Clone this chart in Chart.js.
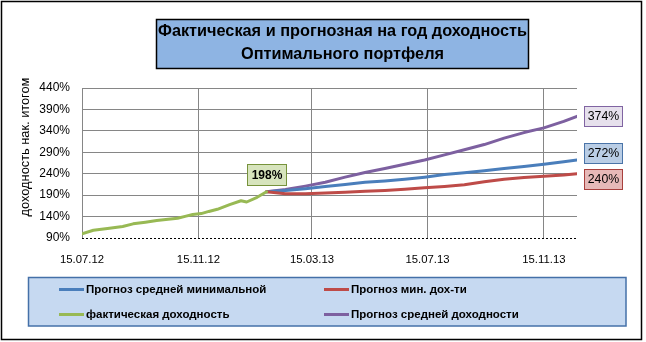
<!DOCTYPE html>
<html><head><meta charset="utf-8">
<script src="https://cdn.jsdelivr.net/npm/chart.js@4.4.0/dist/chart.umd.min.js"></script>
<style>html,body{margin:0;padding:0;background:#fff}#wrap{width:646px;height:342px;position:relative}</style>
</head><body><div id="wrap"><canvas id="c" width="646" height="342"></canvas></div>
<script>
const titleLines = ['Фактическая и прогнозная на год доходность', 'Оптимального портфеля'];
const yAxisTitle = 'доходность нак. итогом';
const seriesNames = ['Прогноз средней минимальной', 'Прогноз мин. дох-ти', 'фактическая доходность', 'Прогноз средней доходности'];
const xTickDays = [0, 123, 243, 365, 488];
const xTickLabels = ['15.07.12', '15.11.12', '15.03.13', '15.07.13', '15.11.13'];
const yTicks = [90, 140, 190, 240, 290, 340, 390, 440];
const factDays = [0, 12, 27, 43, 54, 67, 79, 91, 101, 110, 117, 126, 134, 143, 156, 168, 174, 185, 195];
const factVals = [100, 108, 112, 117, 123, 127, 131, 134, 136, 141, 145, 147, 152, 157, 168, 177, 174, 185, 198];
const fcDays = [195, 215, 236, 257, 278, 299, 320, 341, 362, 383, 404, 425, 446, 467, 488, 509, 523];
const minAvgVals = [198, 201, 205, 210, 215, 220, 223, 227, 232, 238, 242, 247, 252, 257, 262, 268, 272];
const minVals = [198, 193, 193, 195, 197, 199, 201, 204, 207, 210, 214, 221, 227, 231, 234, 237, 240];
const avgVals = [198, 203, 211, 220, 232, 243, 252, 262, 272, 284, 296, 308, 323, 336, 347, 362, 374];

const colors = ['#4a7ebb', '#be4b48', '#98b954', '#7d60a0'];
const labelFill = ['#b9cde5', '#e6b9b8', '#d7e4bd', '#e6e0ec'];
const labelBorder = ['#4a74a8', '#a8403d', '#77933c', '#8064a2'];

function pts(days, vals) { return days.map((d, i) => ({ x: d, y: vals[i] })); }

const ds = (i, data) => ({
  label: seriesNames[i], data, borderColor: colors[i], backgroundColor: colors[i],
  borderWidth: 3, pointRadius: 0, tension: 0, borderJoinStyle: 'round', borderCapStyle: 'round'
});

const FONT = '"Liberation Sans", Arial, sans-serif';

const decor = {
  id: 'decor',
  beforeDraw(chart) {
    const c = chart.ctx;
    c.save();
    c.fillStyle = '#fff';
    c.fillRect(0, 0, chart.width, chart.height);
    c.restore();
  },
  beforeDatasetsDraw(chart) {
    const c = chart.ctx, ca = chart.chartArea;
    c.save();
    c.strokeStyle = '#000'; c.lineWidth = 1; c.setLineDash([2, 2]);
    const yb = Math.round(ca.bottom) + 0.5;
    c.beginPath(); c.moveTo(ca.left, yb); c.lineTo(ca.right, yb); c.stroke();
    c.restore();
  },
  afterDatasetsDraw(chart) {
    const c = chart.ctx, x = chart.scales.x, y = chart.scales.y, ca = chart.chartArea;
    c.save();
    const ends = [
      { i: 3, v: avgVals[avgVals.length - 1], dy: 0 },
      { i: 0, v: minAvgVals[minAvgVals.length - 1], dy: -7.5 },
      { i: 1, v: minVals[minVals.length - 1], dy: 5 }
    ];
    c.font = '12.3px ' + FONT;
    c.textAlign = 'center'; c.textBaseline = 'middle';
    ends.forEach(e => {
      const cy = y.getPixelForValue(e.v) + e.dy;
      const bx = ca.right + 7.5, bw = 38, bh = 20;
      const by = Math.round(cy - bh / 2) + 0.5;
      c.fillStyle = labelFill[e.i];
      c.fillRect(bx, by, bw, bh);
      c.strokeStyle = labelBorder[e.i]; c.lineWidth = 1;
      c.strokeRect(bx, by, bw, bh);
      c.fillStyle = '#000';
      c.fillText(e.v + '%', bx + bw / 2, by + bh / 2 + 0.5);
    });
    const lv = factVals[factVals.length - 1];
    const px = x.getPixelForValue(factDays[factDays.length - 1]);
    const py = y.getPixelForValue(lv);
    const bw = 39, bh = 21;
    const bx = Math.round(px - bw / 2) + 0.5, by = Math.round(py - 7 - bh) + 0.5;
    c.fillStyle = labelFill[2]; c.fillRect(bx, by, bw, bh);
    c.strokeStyle = labelBorder[2]; c.lineWidth = 1; c.strokeRect(bx, by, bw, bh);
    c.fillStyle = '#000'; c.font = 'bold 12px ' + FONT;
    c.fillText(lv + '%', bx + bw / 2, by + bh / 2 + 0.5);
    c.restore();
  },
  afterDraw(chart) {
    const c = chart.ctx;
    c.save();
    c.strokeStyle = '#000'; c.lineWidth = 1.5;
    c.strokeRect(1.5, 1.5, 640, 338);
    c.fillStyle = '#8eb4e3';
    c.fillRect(156, 19, 373, 50);
    c.lineWidth = 1.5; c.strokeStyle = '#000';
    c.strokeRect(156.5, 19.5, 372, 49);
    c.fillStyle = '#000'; c.textAlign = 'center'; c.textBaseline = 'middle';
    c.font = 'bold 16.3px ' + FONT;
    c.fillText(titleLines[0], 342.5, 31.5);
    c.fillText(titleLines[1], 342.5, 54.5);
    c.save();
    c.translate(25, 147);
    c.rotate(-Math.PI / 2);
    c.font = '12.8px ' + FONT;
    c.fillText(yAxisTitle, 0, 0);
    c.restore();
    c.fillStyle = '#c6d9f1';
    c.fillRect(28.5, 277.5, 597.5, 48.5);
    c.strokeStyle = '#4470a8'; c.lineWidth = 1.5;
    c.strokeRect(28.5, 277.5, 597.5, 48.5);
    const pos = [[59, 289.5], [324, 289.5], [59, 314.5], [324, 314.5]];
    c.textAlign = 'left'; c.font = 'bold 11.5px ' + FONT;
    [0, 1, 2, 3].forEach((i, k) => {
      const [lx, ly] = pos[k];
      c.strokeStyle = colors[i]; c.lineWidth = 3; c.lineCap = 'butt';
      c.beginPath(); c.moveTo(lx, ly); c.lineTo(lx + 25, ly); c.stroke();
      c.fillStyle = '#000';
      c.fillText(seriesNames[i], lx + 27, ly + 0.5);
    });
    c.restore();
  }
};

new Chart(document.getElementById('c'), {
  type: 'line',
  data: {
    datasets: [
      ds(2, pts(factDays, factVals)),
      ds(1, pts(fcDays, minVals)),
      ds(0, pts(fcDays, minAvgVals)),
      ds(3, pts(fcDays, avgVals))
    ]
  },
  options: {
    responsive: false, animation: false, devicePixelRatio: 1,
    layout: { padding: { top: 88, right: 69, left: 0, bottom: 0 } },
    plugins: { legend: { display: false }, title: { display: false }, tooltip: { enabled: false } },
    scales: {
      x: {
        type: 'linear', min: 0, max: fcDays[fcDays.length - 1],
        afterBuildTicks: s => { s.ticks = xTickDays.map(v => ({ value: v })); },
        afterFit: s => { s.height = 104; },
        ticks: {
          callback: (v) => xTickLabels[xTickDays.indexOf(v)],
          font: { family: FONT, size: 11.3 }, color: '#000', padding: 15, maxRotation: 0, autoSkip: false
        },
        grid: { color: (ctx) => ctx.tick && ctx.tick.value === 0 ? 'rgba(0,0,0,0)' : '#868686', drawTicks: false, lineWidth: 1 },
        border: { display: false }
      },
      y: {
        min: yTicks[0], max: yTicks[yTicks.length - 1],
        afterBuildTicks: s => { s.ticks = yTicks.map(v => ({ value: v })); },
        afterFit: s => { s.width = 82; },
        ticks: {
          callback: v => v + '%',
          font: { family: FONT, size: 12 }, color: '#000', padding: 12
        },
        grid: { color: (ctx) => ctx.tick && ctx.tick.value === yTicks[0] ? 'rgba(0,0,0,0)' : '#868686', drawTicks: false, lineWidth: 1 },
        border: { color: '#868686', width: 1 }
      }
    }
  },
  plugins: [decor]
});
</script>
</body></html>
